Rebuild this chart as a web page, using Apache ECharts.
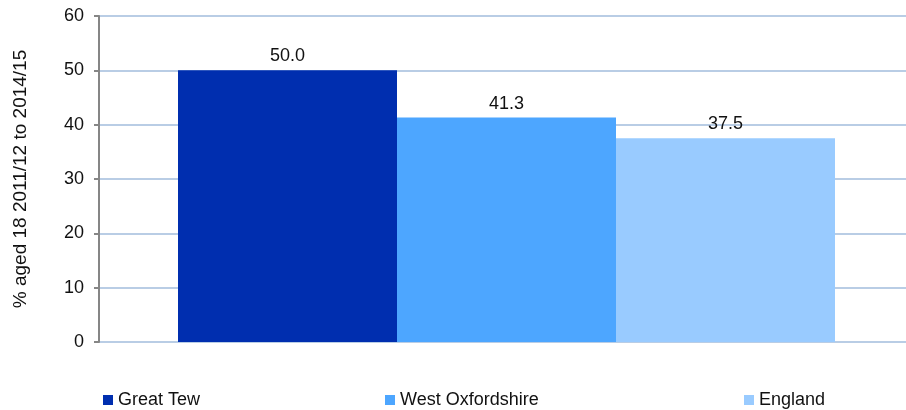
<!DOCTYPE html>
<html>
<head>
<meta charset="utf-8">
<script src="https://cdn.jsdelivr.net/npm/echarts@6/dist/echarts.min.js"></script>
<style>html,body{margin:0;padding:0;background:#fff;overflow:hidden;width:906px;height:410px}#c{width:914px;height:410px}</style>
</head>
<body>
<div id="c"></div>
<script>
const categories = ['% aged 18'];
const seriesNames = ['Great Tew', 'West Oxfordshire', 'England'];
const seriesValues = [[50.0], [41.3], [37.5]];
const seriesColors = ['#002EAF', '#4DA6FF', '#99CBFF'];
const yTicks = [0, 10, 20, 30, 40, 50, 60];
const yAxisTitle = '% aged 18 2011/12 to 2014/15';

const legendLefts = [103, 385, 744];
const font = 'Liberation Sans, Arial, sans-serif';

const chart = echarts.init(document.getElementById('c'), null, {renderer: 'canvas'});
chart.setOption({
  animation: false,
  textStyle: {fontFamily: font},
  grid: {left: 99, right: 0, top: 16, bottom: 68, containLabel: false},
  legend: seriesNames.map((n, i) => ({
    data: [n],
    left: legendLefts[i],
    top: 391,
    icon: 'rect',
    itemWidth: 10,
    itemHeight: 10,
    itemGap: 0,
    textStyle: {fontSize: 18, color: '#111', fontFamily: font, padding: [0, 0, 0, 0]},
    padding: 0
  })),
  xAxis: {
    type: 'category',
    data: categories,
    axisLine: {show: false},
    axisTick: {show: false},
    axisLabel: {show: false},
    splitLine: {show: false}
  },
  yAxis: {
    type: 'value',
    min: yTicks[0],
    max: yTicks[yTicks.length - 1],
    interval: 10,
    name: yAxisTitle,
    nameLocation: 'middle',
    nameRotate: 90,
    nameGap: 69,
    nameTextStyle: {fontSize: 19, color: '#111', fontFamily: font},
    axisLine: {show: true, lineStyle: {color: '#868686', width: 2}},
    axisTick: {show: true, length: 5, lineStyle: {color: '#868686', width: 2}},
    axisLabel: {fontSize: 18, color: '#111', margin: 15, fontFamily: font},
    splitLine: {show: true, lineStyle: {color: '#B9CDE5', width: 2}}
  },
  series: seriesNames.map((n, i) => ({
    name: n,
    type: 'bar',
    data: seriesValues[i],
    barWidth: 219,
    barGap: '0%',
    itemStyle: {color: seriesColors[i]},
    label: {
      show: true,
      position: 'top',
      distance: 5,
      fontSize: 18,
      color: '#111',
      fontFamily: font,
      formatter: p => p.value.toFixed(1)
    }
  }))
});
</script>
</body>
</html>
